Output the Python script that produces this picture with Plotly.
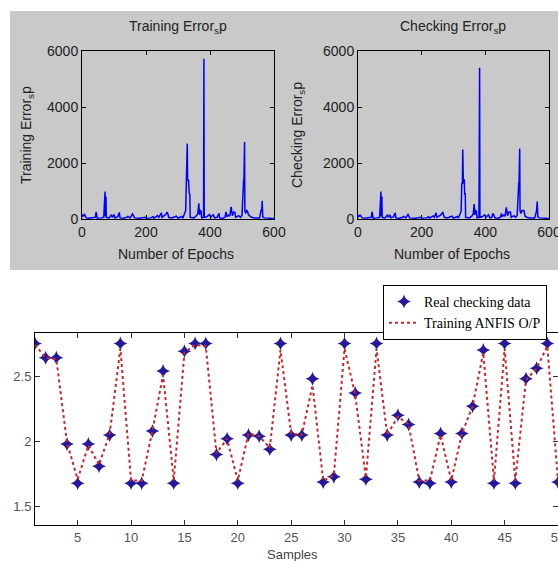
import plotly.graph_objects as go

# ---------------- data ----------------
train_epoch = [0, 3, 5, 8, 11, 14, 20, 30, 42, 44, 46, 48, 60, 68, 72, 73, 75, 76, 85, 92, 95, 100, 103,
               112, 115, 117, 119, 130, 140, 143, 150, 158, 161, 164, 180, 198, 200, 215, 222, 225, 236,
               240, 248, 250, 258, 262, 266, 268, 271, 280, 295, 300, 312, 315, 324, 326, 327, 328, 329,
               330, 331, 332, 333, 335, 337, 338, 350, 358, 362, 365, 367, 370, 372, 374, 380, 381, 382,
               390, 395, 398, 402, 408, 410, 414, 422, 428, 430, 440, 447, 450, 453, 458, 462, 466, 468,
               470, 474, 478, 480, 490, 495, 500, 505, 506, 508, 509, 512, 515, 518, 520, 525, 530, 540,
               555, 560, 562, 563, 565, 570, 580, 590, 600]
train_err = [60, 150, 120, 160, 80, 40, 30, 40, 60, 250, 120, 30, 40, 60, 980, 100, 800, 60, 40, 150, 60,
             160, 40, 80, 200, 210, 40, 30, 60, 90, 40, 180, 120, 40, 30, 60, 30, 40, 80, 30, 120, 60, 220,
             60, 130, 170, 250, 200, 60, 40, 100, 30, 90, 30, 300, 1380, 1380, 1380, 2700, 1380, 1380,
             1380, 1380, 920, 900, 60, 40, 120, 200, 560, 150, 300, 280, 40, 60, 5720, 60, 80, 150, 160,
             60, 130, 150, 40, 60, 200, 40, 30, 60, 250, 80, 140, 100, 430, 300, 120, 250, 240, 60, 120,
             60, 130, 1390, 1390, 2750, 300, 200, 320, 250, 160, 100, 60, 40, 40, 330, 350, 650, 80, 40,
             30, 30, 20]

check_epoch = [0, 3, 5, 7, 11, 14, 20, 30, 42, 44, 46, 48, 60, 68, 72, 73, 75, 76, 85, 92, 95, 100, 103,
               112, 115, 117, 119, 130, 140, 143, 150, 157, 159, 162, 180, 198, 200, 215, 222, 225, 236,
               240, 245, 248, 258, 262, 266, 268, 271, 280, 295, 300, 312, 315, 324, 326, 327, 328, 329,
               330, 331, 333, 334, 335, 337, 338, 350, 358, 362, 365, 367, 370, 372, 374, 380, 382, 383,
               390, 395, 398, 402, 409, 410, 414, 420, 424, 430, 440, 447, 451, 453, 458, 462, 466, 468,
               470, 474, 479, 481, 490, 495, 500, 505, 506, 508, 509, 512, 515, 521, 523, 525, 530, 540,
               555, 560, 561, 563, 565, 570, 580, 590, 600]
check_err = [50, 140, 110, 150, 70, 40, 30, 40, 60, 260, 110, 30, 40, 60, 980, 100, 800, 60, 40, 140, 60,
             150, 40, 80, 190, 200, 40, 30, 60, 90, 40, 160, 120, 40, 30, 60, 30, 40, 80, 30, 110, 60, 220,
             60, 130, 170, 250, 200, 60, 40, 100, 30, 90, 30, 280, 1270, 1270, 1270, 2480, 1270, 1270,
             1390, 1390, 900, 900, 60, 40, 110, 190, 530, 140, 300, 280, 40, 60, 5400, 60, 80, 150, 150,
             60, 150, 150, 40, 60, 200, 40, 30, 60, 200, 80, 140, 100, 420, 280, 120, 250, 250, 60, 120,
             60, 130, 1290, 1290, 2520, 300, 200, 300, 300, 160, 100, 60, 40, 40, 300, 300, 620, 80, 40,
             30, 30, 20]

samples = list(range(1, 51))
real_check = [2.75, 2.64, 2.64, 1.98, 1.68, 1.98, 1.81, 2.05, 2.75, 1.68,
              1.68, 2.08, 2.54, 1.68, 2.69, 2.75, 2.75, 1.90, 2.02, 1.68,
              2.05, 2.04, 1.94, 2.75, 2.05, 2.05, 2.48, 1.69, 1.73, 2.75,
              2.37, 1.71, 2.75, 2.05, 2.20, 2.13, 1.69, 1.68, 2.06, 1.69,
              2.06, 2.27, 2.70, 1.68, 2.75, 1.68, 2.48, 2.56, 2.75, 1.69]
anfis_out = [2.74, 2.64, 2.63, 1.99, 1.71, 1.97, 1.82, 2.06, 2.71, 1.70,
             1.70, 2.08, 2.51, 1.70, 2.68, 2.74, 2.73, 1.91, 2.02, 1.70,
             2.06, 2.04, 1.95, 2.70, 2.06, 2.05, 2.43, 1.70, 1.74, 2.71,
             2.36, 1.72, 2.71, 2.05, 2.19, 2.13, 1.70, 1.70, 2.05, 1.70,
             2.06, 2.27, 2.68, 1.70, 2.71, 1.70, 2.47, 2.56, 2.73, 1.70]

# ---------------- figure ----------------
W, H = 558, 561
SANS = "Liberation Sans, Arial, sans-serif"
SERIF = "Liberation Serif, Times New Roman, serif"

def px(x):
    return x / W

def py(y):
    return 1 - y / H

fig = go.Figure()

fig.add_trace(go.Scatter(x=train_epoch, y=train_err, mode="lines", line=dict(color="#0000ff", width=1.5),
                         xaxis="x", yaxis="y", showlegend=False, hoverinfo="skip"))
fig.add_trace(go.Scatter(x=check_epoch, y=check_err, mode="lines", line=dict(color="#0000ff", width=1.5),
                         xaxis="x2", yaxis="y2", showlegend=False, hoverinfo="skip"))
fig.add_trace(go.Scatter(x=samples, y=real_check, mode="markers", name="Real checking data",
                         marker=dict(symbol="star-diamond", size=10, color="#24199a",
                                     line=dict(width=0)),
                         xaxis="x3", yaxis="y3"))
fig.add_trace(go.Scatter(x=samples, y=anfis_out, mode="lines", name="Training ANFIS O/P",
                         line=dict(color="#c8282a", width=2, dash="dot"),
                         xaxis="x3", yaxis="y3"))

top_axis = dict(showline=True, mirror="ticks", linecolor="black", linewidth=1, ticks="inside",
                ticklen=4, tickcolor="black", showgrid=False, zeroline=False, ticklabeloverflow="allow",
                tickfont=dict(family=SANS, size=14, color="#222222"))
bot_axis = dict(showline=True, mirror="ticks", linecolor="black", linewidth=1, ticks="inside",
                ticklen=5, tickcolor="#333333", showgrid=False, zeroline=False, ticklabeloverflow="allow",
                tickfont=dict(family=SANS, size=13, color="#555555"))

fig.update_layout(
    width=W, height=H,
    margin=dict(l=0, r=0, t=0, b=0, autoexpand=False),
    paper_bgcolor="white", plot_bgcolor="white",
    xaxis=dict(domain=[px(82), px(274)], range=[0, 600], tickvals=[0, 200, 400, 600], anchor="y", **top_axis),
    yaxis=dict(domain=[py(219), py(51)], range=[0, 6000], tickvals=[0, 2000, 4000, 6000], anchor="x", **top_axis),
    xaxis2=dict(domain=[px(358), px(549)], range=[0, 600], tickvals=[0, 200, 400, 600], anchor="y2", **top_axis),
    yaxis2=dict(domain=[py(219), py(51)], range=[0, 6000], tickvals=[0, 2000, 4000, 6000], anchor="x2", **top_axis),
    xaxis3=dict(domain=[px(35), 1.0], range=[1, 50], tickvals=list(range(5, 51, 5)), anchor="y3", **bot_axis),
    yaxis3=dict(domain=[py(525), py(333)], range=[1.36, 2.83], tickvals=[1.5, 2, 2.5],
                ticktext=["1.5", "2", "2.5"], anchor="x3", **bot_axis),
    legend=dict(x=px(383), y=py(285), xanchor="left", yanchor="top", bgcolor="white",
                bordercolor="black", borderwidth=1, font=dict(family=SERIF, size=14, color="black"),
                tracegroupgap=0, entrywidth=180, entrywidthmode="pixels"),
    shapes=[dict(type="rect", xref="paper", yref="paper", x0=px(10), x1=1.0, y0=py(270), y1=py(11),
                 fillcolor="#c9c9c9", line=dict(width=0), layer="below")],
    showlegend=True,
)

ann_font = dict(family=SANS, size=14, color="#222222")
annots = [
    dict(text="Training Error<sub>s</sub>p", x=px(178), y=py(27), textangle=0),
    dict(text="Checking Error<sub>s</sub>p", x=px(453), y=py(27), textangle=0),
    dict(text="Number of Epochs", x=px(176), y=py(254), textangle=0),
    dict(text="Number of Epochs", x=px(452), y=py(254), textangle=0),
    dict(text="Training Error<sub>s</sub>p", x=px(27), y=py(135), textangle=-90),
    dict(text="Checking Error<sub>s</sub>p", x=px(298), y=py(135), textangle=-90),
]
for a in annots:
    fig.add_annotation(xref="paper", yref="paper", xanchor="center", yanchor="middle",
                       showarrow=False, font=ann_font, **a)
fig.add_annotation(text="Samples", xref="paper", yref="paper", x=px(292), y=py(554),
                   xanchor="center", yanchor="middle", showarrow=False,
                   font=dict(family=SANS, size=13, color="#444444"))

fig.write_html("out.html", config={"displayModeBar": False},
               post_script="document.body.style.margin='0px';document.body.style.overflow='hidden';")
